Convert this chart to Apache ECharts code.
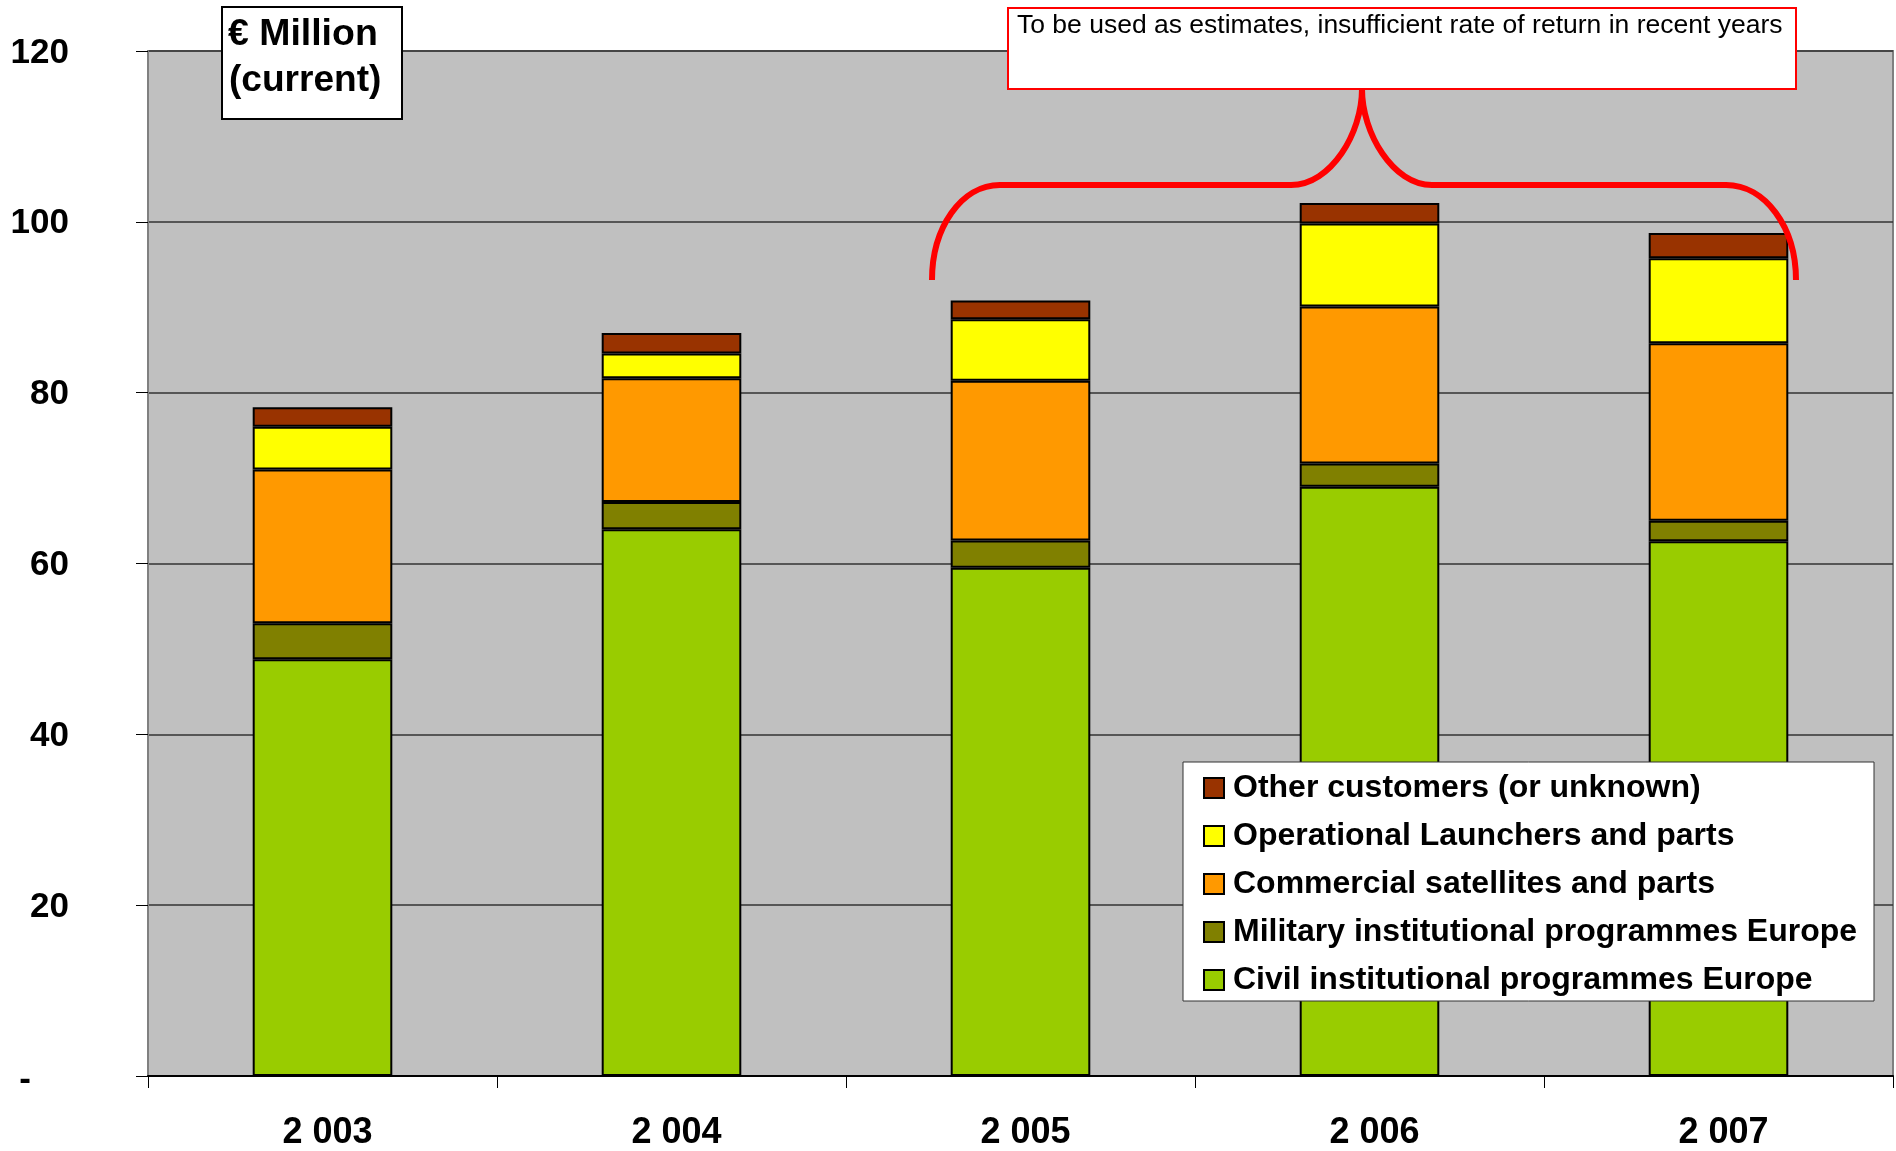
<!DOCTYPE html>
<html>
<head>
<meta charset="utf-8">
<script src="https://cdn.jsdelivr.net/npm/echarts@6/dist/echarts.min.js"></script>
<style>
html,body{margin:0;padding:0;background:#fff;}
#c{width:1896px;height:1151px;}
</style>
</head>
<body>
<div id="c"></div>
<script>
const categories = ['2 003', '2 004', '2 005', '2 006', '2 007'];
const civil = [48.8, 64.0, 59.5, 69.0, 62.6];
const military = [4.2, 3.2, 3.2, 2.7, 2.4];
const commercial = [18.0, 14.5, 18.7, 18.4, 20.8];
const operational = [5.0, 2.9, 7.2, 9.7, 9.95];
const other = [2.3, 2.4, 2.2, 2.4, 2.95];
const seriesNames = [
  'Civil institutional programmes Europe',
  'Military institutional programmes Europe',
  'Commercial satellites and parts',
  'Operational Launchers and parts',
  'Other customers (or unknown)'
];
const seriesColors = ['#99CC00', '#808000', '#FF9900', '#FFFF00', '#993300'];
const seriesData = [civil, military, commercial, operational, other];
const unitLines = ['€ Million', '(current)'];
const noteText = 'To be used as estimates, insufficient rate of return in recent years';

const FONT = '"Liberation Sans", Arial, Helvetica, sans-serif';
const chart = echarts.init(document.getElementById('c'), null, {renderer: 'canvas'});

const red = '#FF0000';
const braceStyle = {stroke: red, lineWidth: 6, fill: null, lineCap: 'butt'};

chart.setOption({
  animation: false,
  backgroundColor: '#ffffff',
  grid: {
    left: 148, right: 3, top: 51, bottom: 75,
    show: true, backgroundColor: '#C0C0C0', borderColor: '#808080', borderWidth: 2
  },
  xAxis: {
    type: 'category',
    data: categories,
    boundaryGap: true,
    axisLine: {show: true, lineStyle: {color: '#000', width: 2}},
    axisTick: {show: true, length: 12, lineStyle: {color: '#000', width: 1}},
    axisLabel: {
      margin: 39, color: '#000', fontSize: 36, fontWeight: 'bold', fontFamily: FONT,
      padding: [0, 0, 0, 10]
    },
    splitLine: {show: false}
  },
  yAxis: {
    type: 'value',
    min: 0, max: 120, interval: 20,
    axisLine: {show: true, lineStyle: {color: '#808080', width: 2}},
    axisTick: {show: true, length: 12, lineStyle: {color: '#000', width: 1}},
    axisLabel: {
      margin: 79, color: '#000', fontSize: 35, fontWeight: 'bold', fontFamily: FONT,
      padding: [4, 0, 0, 0],
      formatter: function (v) { return v === 0 ? '{d|-}' : String(v); },
      rich: {d: {fontSize: 35, fontWeight: 'bold', fontFamily: FONT, color: '#000', padding: [4, 38, 0, 0]}}
    },
    splitLine: {show: true, lineStyle: {color: '#333', width: 1.5}}
  },
  legend: {
    orient: 'vertical',
    left: 1203, top: 771,
    padding: 0,
    z: 20,
    icon: 'rect',
    itemWidth: 20, itemHeight: 20, itemGap: 14,
    itemStyle: {borderColor: '#000', borderWidth: 2},
    textStyle: {fontSize: 32, fontWeight: 'bold', fontFamily: FONT, color: '#000', lineHeight: 34, padding: [0, 0, 0, 4]},
    data: seriesNames.slice().reverse()
  },
  series: seriesData.map(function (d, i) {
    return {
      name: seriesNames[i],
      type: 'bar',
      stack: 'total',
      barWidth: '40%',
      data: d,
      itemStyle: {color: seriesColors[i], borderColor: '#000', borderWidth: 2},
      emphasis: {disabled: true}
    };
  }),
  graphic: [
    // legend box
    {type: 'rect', z: 15, shape: {x: 1183, y: 762, width: 691, height: 239},
     style: {fill: '#fff', stroke: '#333', lineWidth: 1}},
    // unit box
    {type: 'rect', z: 15, shape: {x: 222, y: 7, width: 180, height: 112},
     style: {fill: '#fff', stroke: '#000', lineWidth: 2}},
    {type: 'text', z: 16, x: 228, y: 35, scaleX: 1.04,
     style: {text: unitLines[0], fontSize: 36, fontWeight: 'bold', fontFamily: FONT, fill: '#000', align: 'left', verticalAlign: 'middle'}},
    {type: 'text', z: 16, x: 229, y: 81, scaleX: 1.03,
     style: {text: unitLines[1], fontSize: 36, fontWeight: 'bold', fontFamily: FONT, fill: '#000', align: 'left', verticalAlign: 'middle'}},
    // note box
    {type: 'rect', z: 15, shape: {x: 1008, y: 8, width: 788, height: 81},
     style: {fill: '#fff', stroke: red, lineWidth: 2}},
    {type: 'text', z: 16, x: 1017, y: 26,
     style: {text: noteText, fontSize: 26.5, fontFamily: FONT, fill: '#000', align: 'left', verticalAlign: 'middle'}},
    // brace
    {type: 'bezierCurve', z: 14, shape: {x1: 932, y1: 280, cpx1: 932, cpy1: 228, cpx2: 961, cpy2: 185, x2: 1000, y2: 185}, style: braceStyle},
    {type: 'line', z: 14, shape: {x1: 1000, y1: 185, x2: 1291, y2: 185}, style: braceStyle},
    {type: 'bezierCurve', z: 14, shape: {x1: 1291, y1: 185, cpx1: 1331, cpy1: 185, cpx2: 1362, cpy2: 133, x2: 1362, y2: 89}, style: braceStyle},
    {type: 'bezierCurve', z: 14, shape: {x1: 1362, y1: 89, cpx1: 1362, cpy1: 133, cpx2: 1393, cpy2: 185, x2: 1432, y2: 185}, style: braceStyle},
    {type: 'line', z: 14, shape: {x1: 1432, y1: 185, x2: 1726, y2: 185}, style: braceStyle},
    {type: 'bezierCurve', z: 14, shape: {x1: 1726, y1: 185, cpx1: 1765, cpy1: 185, cpx2: 1796, cpy2: 227, x2: 1796, y2: 280}, style: braceStyle}
  ]
});
</script>
</body>
</html>
